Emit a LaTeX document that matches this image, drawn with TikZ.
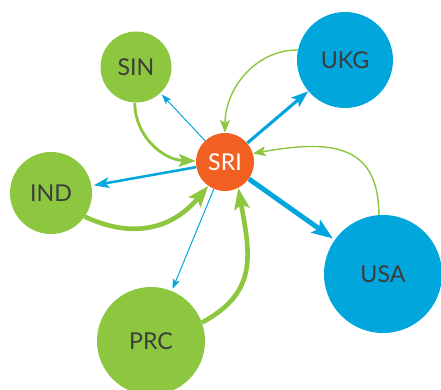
\documentclass[tikz,border=0pt]{standalone}
\usepackage{fontspec}
\setmainfont{Lato}
\usepackage{xcolor}
\usetikzlibrary{arrows.meta}
\definecolor{leafgreen}{HTML}{8DC63F}
\definecolor{skyblue}{HTML}{00A6DC}
\definecolor{hubred}{HTML}{F26122}
\definecolor{inkgrey}{HTML}{3C3C3C}

\begin{document}
\begin{tikzpicture}[
  country/.style={circle, inner sep=0pt, text=inkgrey, font=\fontsize{16.5}{18}\selectfont},
  greenc/.style={country, fill=leafgreen},
  bluec/.style={country, fill=skyblue},
  bluethin/.style={draw=skyblue, line width=0.7pt, -{Stealth[length=7pt, width=5pt, inset=1.5pt]}, shorten >=1.5pt},
  bluemid/.style={draw=skyblue, line width=1.8pt, -{Stealth[length=11pt, width=7.5pt, inset=2.5pt]}, shorten >=1.5pt},
  bluewide/.style={draw=skyblue, line width=2.2pt, -{Stealth[length=12pt, width=8.5pt, inset=2.5pt]}},
  bluethick/.style={draw=skyblue, line width=3.5pt, -{Stealth[length=15pt, width=11pt, inset=3pt]}, shorten >=1.5pt},
  greenthin/.style={draw=leafgreen, line width=1pt, -{Stealth[length=9pt, width=7pt, inset=2pt]}},
  greenmid/.style={draw=leafgreen, line width=2pt, -{Stealth[length=12pt, width=9pt, inset=2.5pt]}},
  greenthick/.style={draw=leafgreen, line width=3.3pt, -{Stealth[length=15pt, width=11pt, inset=3pt]}}
]
\useasboundingbox (0,0) rectangle (11.025,-9.725);
\node[circle, fill=hubred, inner sep=0pt, minimum size=1.45cm, text=white, font=\fontsize{16.5}{18}\selectfont] (sri) at (5.625,-4.05) {SRI};
\node[greenc, minimum size=1.775cm] (sin) at (3.4,-1.675) {SIN};
\node[bluec, minimum size=2.4cm] (ukg) at (8.625,-1.5) {UKG};
\node[greenc, minimum size=2.05cm] (ind) at (1.275,-4.825) {IND};
\node[greenc, minimum size=2.7cm] (prc) at (3.775,-8.525) {PRC};
\node[bluec, minimum size=2.95cm] (usa) at (9.575,-6.85) {USA};
\draw[bluethin] (sri) -- (sin);
\draw[bluewide] (sri) -- (ukg);
\draw[bluethick] (sri) -- (usa);
\draw[bluemid] (sri) -- (ind);
\draw[bluethin] (sri) -- (prc);
\draw[greenmid] (sin.-92) to[out=-90, in=178] (sri.178);
\draw[greenthin] (ukg.168) to[out=180, in=90] (sri.north);
\draw[greenthin] (usa.94) to[out=90, in=10, looseness=1.35] (sri.17);
\draw[greenthick] (ind.-35) to[out=-25, in=-130, looseness=1.1] (sri.-125);
\draw[greenthick] (prc.20) to[out=28, in=-80, looseness=1.2] (sri.-63);
\end{tikzpicture}
\end{document}
